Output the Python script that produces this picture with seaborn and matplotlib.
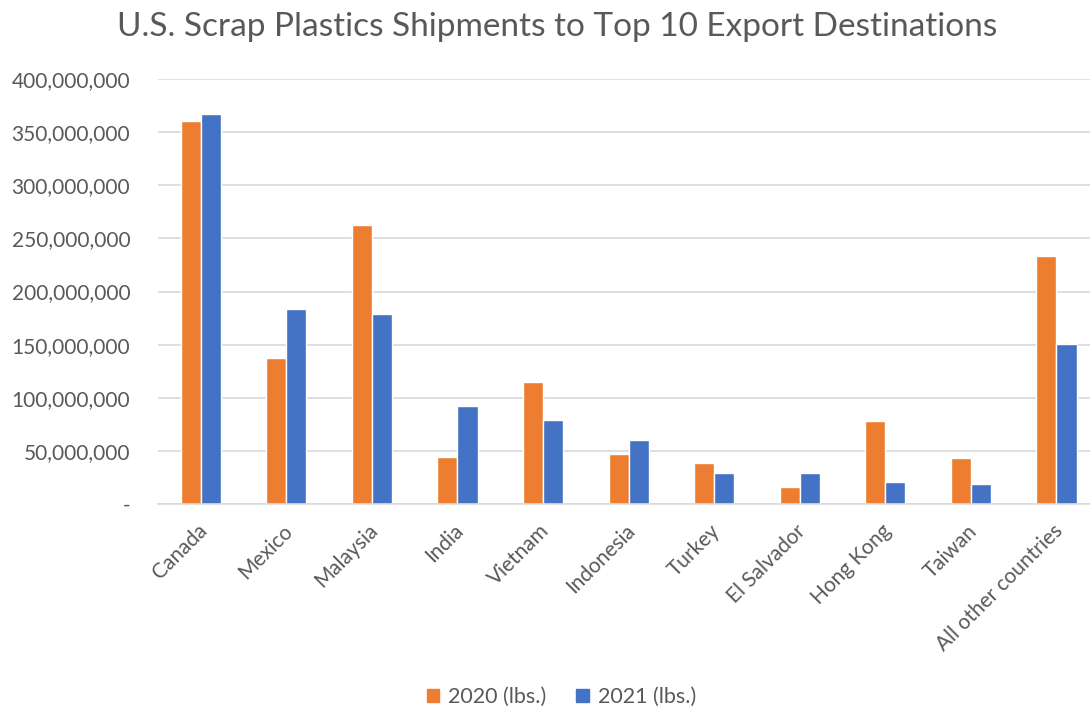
import numpy as np
import pandas as pd
import matplotlib.pyplot as plt
import matplotlib.ticker as mticker
import matplotlib.transforms as mtransforms
import seaborn as sns

# ----------------------------
# Data (lbs)
# ----------------------------
countries = ["Canada", "Mexico", "Malaysia", "India", "Vietnam", "Indonesia",
             "Turkey", "El Salvador", "Hong Kong", "Taiwan", "All other countries"]
lbs_2020 = [360.5e6, 137e6, 262.6e6, 43.9e6, 114.5e6, 47e6,
            38.3e6, 16e6, 78.1e6, 43.6e6, 233.4e6]
lbs_2021 = [367e6, 183.5e6, 178.8e6, 92.5e6, 79e6, 60.2e6,
            29.2e6, 28.9e6, 20.7e6, 18.8e6, 150.6e6]
series = ["2020 (lbs.)", "2021 (lbs.)"]
colors = ["#ED7D31", "#4472C4"]

df = pd.DataFrame({
    "country": countries * 2,
    "lbs": lbs_2020 + lbs_2021,
    "series": [series[0]] * len(countries) + [series[1]] * len(countries),
})

# ----------------------------
# Plot
# ----------------------------
sns.set_style("white")
plt.rcParams["font.family"] = ["Lato", "DejaVu Sans"]
text_color = "#595959"

fig = plt.figure(figsize=(10.9, 7.09), dpi=100)
ax = fig.add_axes([158 / 1090, 1 - 504 / 709, 932 / 1090, (504 - 79) / 709])

sns.barplot(data=df, x="country", y="lbs", hue="series", palette=colors,
            width=0.47, saturation=1, ax=ax, legend=False)

ax.set_ylim(0, 400e6)
ax.set_xlim(-0.5, -0.5 + 932 / 85.57)
ax.yaxis.set_major_locator(mticker.MultipleLocator(50e6))
ax.yaxis.set_major_formatter(
    mticker.FuncFormatter(lambda v, p: "-" if v == 0 else f"{v:,.0f}"))
ax.grid(axis="y", color="#D9D9D9", linewidth=1.2)
ax.set_axisbelow(True)
for s in ["top", "right", "left"]:
    ax.spines[s].set_visible(False)
ax.spines["bottom"].set_color("#D9D9D9")
ax.spines["bottom"].set_linewidth(1.2)

ax.set_xlabel("")
ax.set_ylabel("")
ax.tick_params(axis="y", length=0, labelsize=15, labelcolor=text_color, pad=20)
ax.tick_params(axis="x", length=0, labelsize=15, labelcolor=text_color, pad=12)
shift = mtransforms.ScaledTranslation(-4 / 100, 0, fig.dpi_scale_trans)
for lbl in ax.get_xticklabels():
    lbl.set_rotation(45)
    lbl.set_ha("right")
    lbl.set_rotation_mode("anchor")
    lbl.set_transform(lbl.get_transform() + shift)

fig.text(0.511, 0.962, "U.S. Scrap Plastics Shipments to Top 10 Export Destinations",
         ha="center", va="center", fontsize=24, color=text_color)

handles = [plt.Rectangle((0, 0), 1, 1, color=c) for c in colors]
fig.legend(handles, series, loc="center", bbox_to_anchor=(0.515, 1 - 697 / 709),
           ncol=2, frameon=False, fontsize=15.5, labelcolor=text_color,
           handlelength=0.6, handleheight=0.6, handletextpad=0.4, columnspacing=1.4)

fig.savefig("out.png", dpi=100)
